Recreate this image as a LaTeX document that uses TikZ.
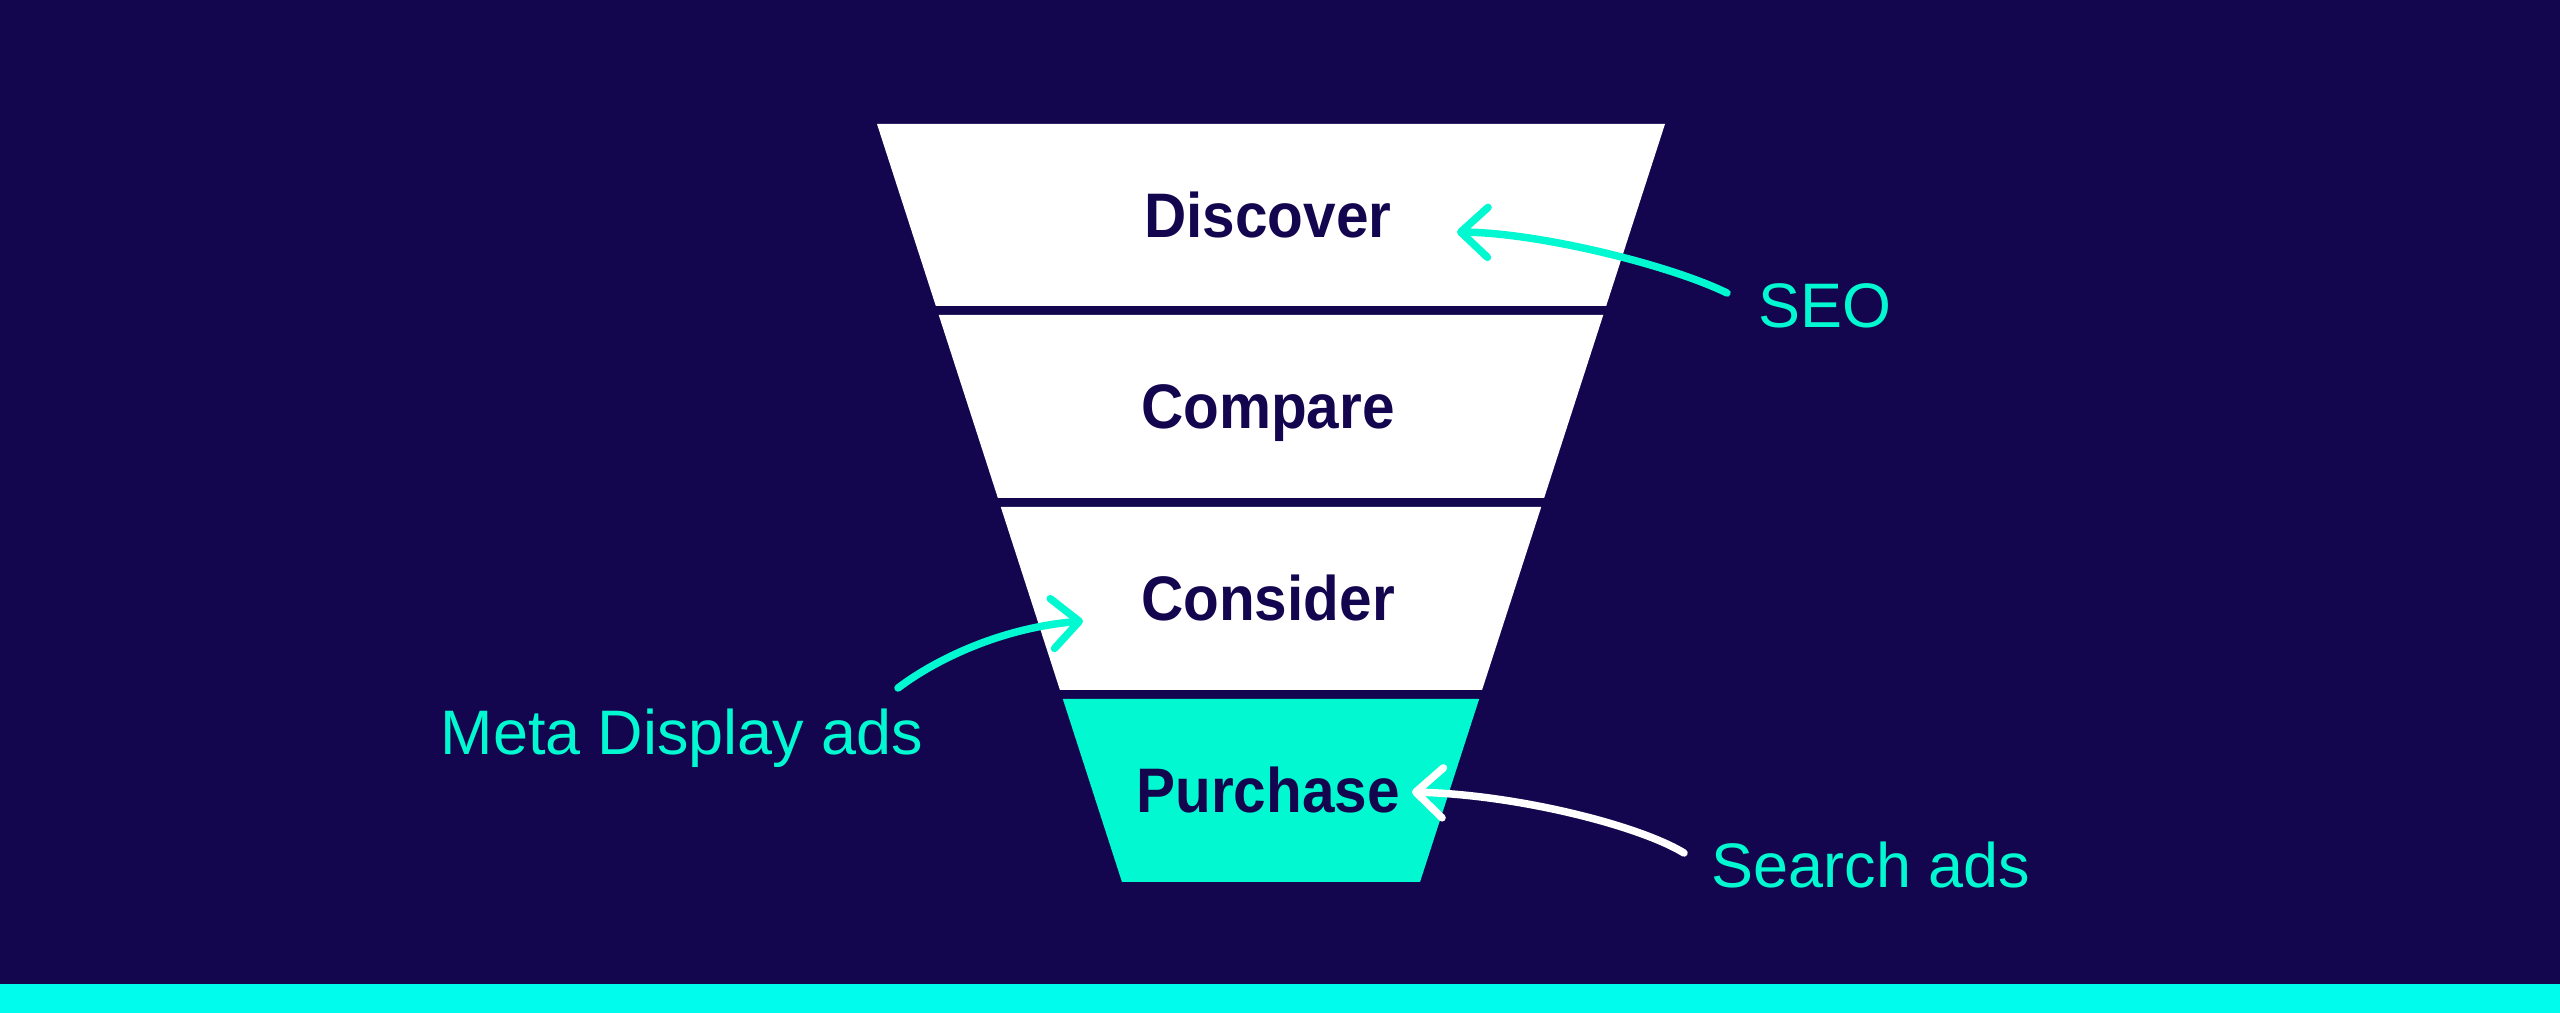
\documentclass[tikz,border=0pt]{standalone}
\usepackage{fontspec}
\setmainfont{Liberation Sans}
\newfontfamily\bandfont{Liberation Sans}[FakeStretch=0.93]
\usetikzlibrary{arrows.meta,  % For the open arrow heads
                positioning,
               }
\definecolor{navy}{RGB}{19,6,79}
\definecolor{mint}{RGB}{2,248,208}
\definecolor{strip}{RGB}{0,252,236}
\tikzstyle{band} = [font=\bandfont\bfseries\fontsize{17.9}{20}\selectfont, text=navy, anchor=base, inner sep=0pt]
\tikzstyle{tag} = [font=\fontsize{17.9}{20}\selectfont, text=mint, anchor=base west, inner sep=0pt]
\tikzstyle{pointer} = [-{Straight Barb[length=2.7mm, width=5mm, round]}, line width=0.75mm, line cap=round]

\begin{document}
\begin{tikzpicture}[x=0.1mm, y=-0.1mm]
  \useasboundingbox (0,0) rectangle (2560,1013);
  \fill[navy] (0,0) rectangle (2560,1013);
  \fill[strip] (0,984) rectangle (2560,1013);

  % funnel, one trapezoid per stage
  \foreach \yt/\yb/\fc/\name/\txt in {124/306/white/discover/Discover,
                                      315/498/white/compare/Compare,
                                      507/690/white/consider/Consider,
                                      699/882/mint/purchase/Purchase}{
    \pgfmathsetmacro{\xt}{394-0.3232*(\yt-124)}
    \pgfmathsetmacro{\xb}{394-0.3232*(\yb-124)}
    \fill[\fc] ({1271-\xt},\yt) -- ({1271+\xt},\yt) -- ({1271+\xb},\yb) -- ({1271-\xb},\yb) -- cycle;
    \node (\name) [band] at (1268,{(\yt+\yb)/2+22.5}) {\txt};
  }

  \node (seo) [tag] at (1758,328) {SEO};
  \node (meta) [tag] at (440,755) {Meta Display ads};
  \node (search) [tag] at (1711,888) {Search ads};

  \coordinate (seo tail) at (1727,293);
  \coordinate (seo tip) at (1457,232);
  \coordinate (meta tail) at (898,688);
  \coordinate (meta tip) at (1083,621);
  \coordinate (search tail) at (1684,853);
  \coordinate (search tip) at (1412,792);

  \draw [pointer, mint] (seo tail) .. controls (1670,265) and (1540,233) .. (seo tip);
  \draw [pointer, mint] (meta tail) .. controls (935,660) and (1000,628) .. (meta tip);
  \draw [pointer, white] (search tail) .. controls (1640,826) and (1520,795) .. (search tip);
\end{tikzpicture}
\end{document}
